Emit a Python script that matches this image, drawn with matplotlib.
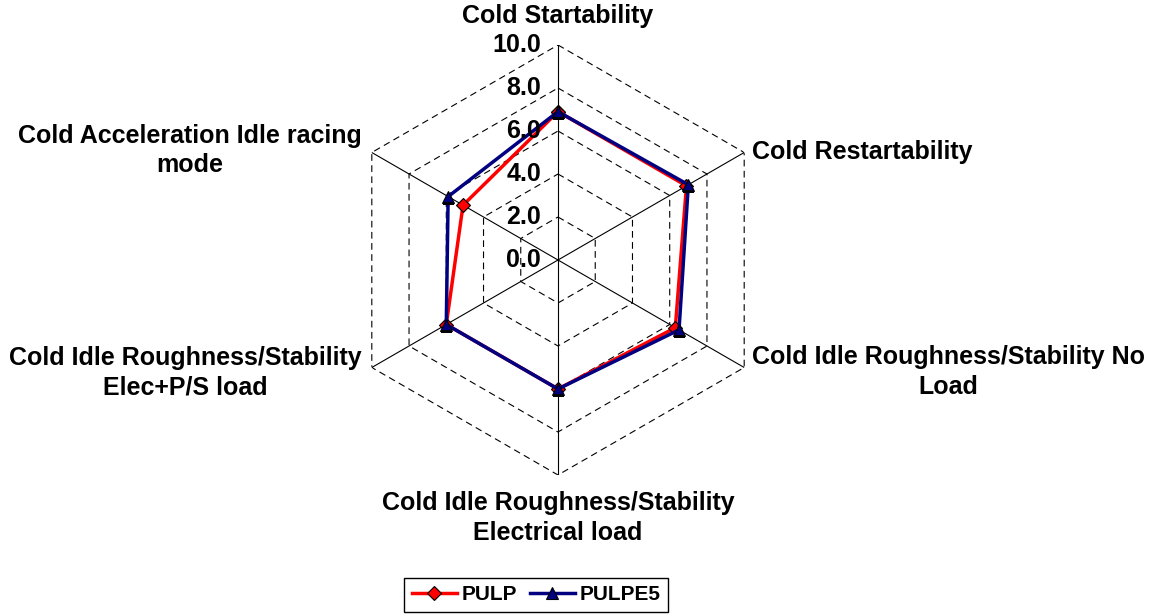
import numpy as np
import matplotlib.pyplot as plt

plt.rcParams['font.family'] = ['Liberation Sans', 'DejaVu Sans']
plt.rcParams['font.weight'] = 'bold'

categories = ['Cold Startability',
              'Cold Restartability',
              'Cold Idle Roughness/Stability No\nLoad',
              'Cold Idle Roughness/Stability\nElectrical load',
              'Cold Idle Roughness/Stability\nElec+P/S load',
              'Cold Acceleration Idle racing\nmode']
pulp = [6.9, 6.9, 6.3, 6.0, 6.0, 5.1]
pulpe5 = [6.9, 7.0, 6.5, 6.0, 6.0, 5.9]
rticks = [0.0, 2.0, 4.0, 6.0, 8.0, 10.0]

n = len(categories)
theta = np.linspace(0, 2*np.pi, n, endpoint=False)
theta_c = np.append(theta, theta[0])

fig = plt.figure(figsize=(11.55, 6.14), dpi=100)
ax = fig.add_axes([343/1155, 139/614, 430/1155, 430/614], projection='polar')
ax.set_theta_offset(np.pi/2)
ax.set_theta_direction(-1)
ax.set_ylim(0, 10)
ax.grid(False)
ax.set_xticks([])
ax.set_yticks([])
ax.spines['polar'].set_visible(False)
ax.patch.set_visible(False)

# hexagon grid
for r in rticks[1:]:
    ax.plot(theta_c, [r]*(n+1), color='black', lw=0.8, ls=(0, (6, 4)), zorder=1)
# spokes
for t in theta:
    ax.plot([t, t], [0, 10], color='black', lw=0.8, zorder=1)

# radial labels
for r in rticks:
    ax.annotate('%.1f' % r, xy=(0, r), xytext=(-17, 0), textcoords='offset pixels',
                ha='right', va='center', fontsize=18, fontweight='bold', zorder=5)

# category labels
offsets = [(0, 17, 'center', 'bottom'),
           (8, 0, 'left', 'center'),
           (8, 22, 'left', 'top'),
           (0, -16, 'center', 'top'),
           (-10, 22, 'right', 'top'),
           (-10, 2, 'right', 'center')]
for t, lab, (dx, dy, ha, va) in zip(theta, categories, offsets):
    ax.annotate(lab, xy=(t, 10), xytext=(dx, dy), textcoords='offset pixels',
                ha=ha, va=va, multialignment='center', fontsize=18,
                fontweight='bold', linespacing=1.3)

ax.plot(theta_c, pulp + pulp[:1], color='#FF0000', lw=2.5, marker='D', ms=7,
        mfc='#FF0000', mec='black', mew=0.8, label='PULP', zorder=3)
ax.plot(theta_c, pulpe5 + pulpe5[:1], color='#000080', lw=2.5, marker='^', ms=9,
        mfc='#000080', mec='black', mew=0.8, label='PULPE5', zorder=4)

leg = fig.legend(loc='center', bbox_to_anchor=(536/1155, 1 - 595/614), ncol=2,
                 fancybox=False, edgecolor='black', framealpha=1, fontsize=15,
                 handlelength=2.2, columnspacing=0.6, handletextpad=0.2,
                 borderpad=0.35, borderaxespad=0)
leg.get_frame().set_linewidth(1.0)

fig.savefig('out.png', dpi=100)
